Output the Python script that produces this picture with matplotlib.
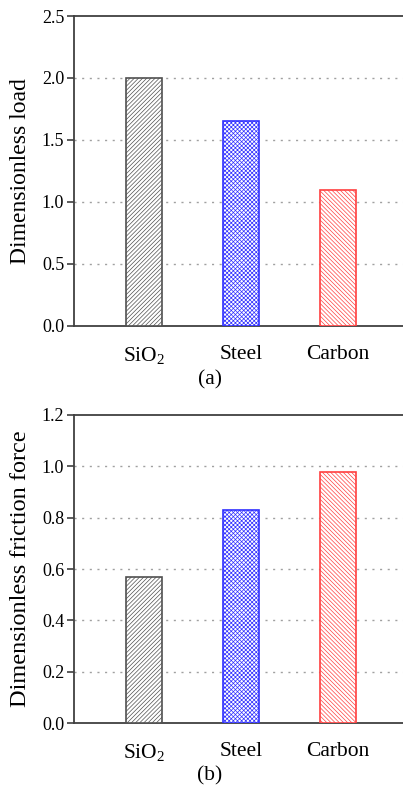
import numpy as np
import matplotlib
matplotlib.use('Agg')
import matplotlib.pyplot as plt

materials = ['SiO$_2$', 'Steel', 'Carbon']
load = [2.0, 1.655, 1.096]
friction = [0.568, 0.831, 0.977]

edge_colors = ['#505050', '#3030ff', '#ff4040']
hatches = ['////////', 'xxxxxxxx', '\\\\\\\\\\\\\\\\']

plt.rcParams['font.family'] = ['Liberation Serif', 'DejaVu Serif']
plt.rcParams['hatch.linewidth'] = 0.5
plt.rcParams['mathtext.fontset'] = 'custom'
plt.rcParams['mathtext.rm'] = 'Liberation Serif'

W, H = 403, 789
fig = plt.figure(figsize=(W / 100, H / 100), dpi=100)


def make_panel(top_px, bot_px, values, ylim, yticks, ylabel, label_size, tag, tag_y):
    ax = fig.add_axes([74 / W, 1 - bot_px / H, (W - 74) / W, (bot_px - top_px) / H])
    x = np.arange(len(materials))
    for i, v in enumerate(values):
        ax.bar(x[i], v, width=0.37, facecolor='white', edgecolor=edge_colors[i],
               hatch=hatches[i], linewidth=1.2, zorder=3)
    ax.set_xlim(-0.722, 2.67)
    ax.set_ylim(*ylim)
    ax.set_yticks(yticks)
    ax.set_yticklabels([f'{t:.1f}' for t in yticks], fontsize=13)
    ax.set_xticks(x)
    ax.set_xticklabels(materials, fontsize=15.5)
    ax.tick_params(axis='x', length=0, pad=14)
    ax.tick_params(axis='y', direction='out', length=5, width=1.2, color='#404040', pad=2)
    for t in yticks[1:-1]:
        ax.axhline(t, color='#a0a0a0', linestyle=(0, (1.5, 4)), linewidth=1.0, zorder=1)
    ax.spines['right'].set_visible(False)
    for s in ['left', 'bottom', 'top']:
        ax.spines[s].set_linewidth(1.3)
        ax.spines[s].set_color('#404040')
    ax.set_ylabel(ylabel, fontsize=label_size, labelpad=8)
    fig.text(210 / W, 1 - tag_y / H, tag, ha='center', va='center', fontsize=15.5)
    return ax


make_panel(16, 325.5, load, (0, 2.5), [0.0, 0.5, 1.0, 1.5, 2.0, 2.5],
           'Dimensionless load', 17, '(a)', 380)
make_panel(415, 723, friction, (0, 1.2), [0.0, 0.2, 0.4, 0.6, 0.8, 1.0, 1.2],
           'Dimensionless friction force', 17.5, '(b)', 776)

plt.savefig('out.png', dpi=100)
